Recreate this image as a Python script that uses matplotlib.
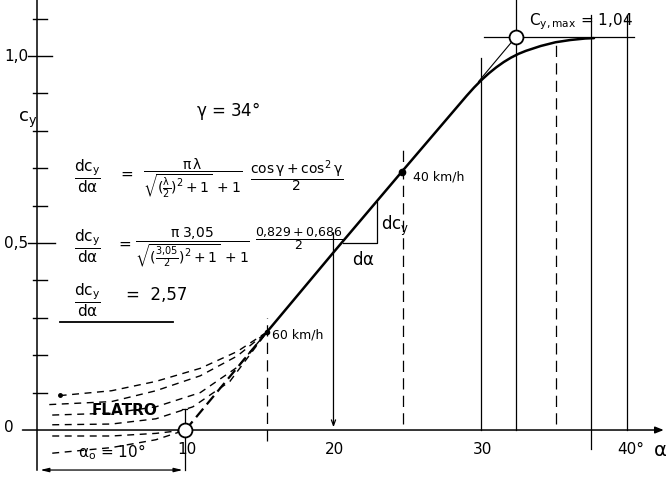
import matplotlib
matplotlib.use("Agg")
import matplotlib.pyplot as plt
import numpy as np

plt.rcParams["mathtext.default"] = "regular"
plt.rcParams["font.family"] = ["DejaVu Sans"]

# lift curve c_y(alpha)
curve_alpha = [15.5, 20.0, 24.6, 29.0, 29.5, 30.0, 30.5, 31.0, 31.5, 32.0, 32.5, 33.0, 34.0, 35.0, 36.0, 37.0, 37.6]
curve_cy = [0.262, 0.475, 0.69, 0.894, 0.916, 0.936, 0.954, 0.970, 0.984, 0.996, 1.006, 1.014, 1.027, 1.037, 1.043, 1.047, 1.048]
zero_lift = (10.0, 0.0)          # alpha_0 = 10 deg
kmh60 = (15.5, 0.262)
kmh40 = (24.6, 0.690)
tangent_start = (29.8, 0.932)
tangent_end = (32.3, 1.05)       # c_y,max = 1,04
cymax_line = [30.2, 40.3]

# "flatro" fan of dashed curves (alpha, c_y)
fan_to_60 = [
    ([1.5, 5, 8, 11, 13.5, 15.5], [0.092, 0.105, 0.13, 0.165, 0.21, 0.262]),
    ([0.8, 5, 8, 11, 13.5, 15.5], [0.068, 0.076, 0.105, 0.145, 0.198, 0.262]),
    ([1.0, 5, 8, 11, 13.5, 15.5], [0.04, 0.045, 0.062, 0.1, 0.168, 0.262]),
    ([1.0, 5, 8, 10.5, 13, 15.5], [0.014, 0.016, 0.03, 0.062, 0.13, 0.262]),
]
fan_to_zero = [
    ([1.0, 5, 8, 10], [-0.016, -0.016, -0.009, 0.0]),
    ([1.0, 5, 8, 10], [-0.062, -0.047, -0.026, 0.0]),
]

# vertical guide lines: alpha, top, bottom, dashed?
vlines = [
    (15.5, 0.30, -0.03, True),
    (24.7, 0.75, 0.015, True),
    (30.0, 0.995, 0.0, False),
    (32.3, 1.15, 0.0, False),
    (35.0, 1.035, 0.015, True),
    (37.4, 1.11, -0.05, False),
    (39.8, 1.11, 0.0, False),
]
cy_minor = [0.1, 0.2, 0.3, 0.4, 0.6, 0.7, 0.8, 0.9, 1.1]
cy_major = [0.5, 1.0]
x_labels = [(10, "10"), (20, "20"), (30, "30"), (40, "40°")]

fig = plt.figure(figsize=(6.68, 4.79), dpi=100)
ax = fig.add_axes([0, 0, 1, 1])
ax.set_xlim(-2.53, 42.6)
ax.set_ylim(-0.131, 1.150)
ax.axis("off")
k = "black"

# axes by hand
ax.plot([0, 0], [-0.107, 1.15], color=k, lw=1.1)
ax.annotate("", xy=(42.5, 0), xytext=(-1.2, 0),
            arrowprops=dict(arrowstyle="-|>,head_length=0.5,head_width=0.2", color=k, lw=1.1))
for c in cy_minor:
    ax.plot([-0.3, 0.65], [c, c], color=k, lw=1.0)
for c in cy_major:
    ax.plot([-0.65, 1.2 if c == 0.5 else 1.0], [c, c], color=k, lw=1.0)

ax.text(-1.39, 1.0, "1,0", ha="center", va="center", fontsize=11)
ax.text(-1.45, 0.5, "0,5", ha="center", va="center", fontsize=11)
ax.text(-1.93, 0.008, "0", ha="center", va="center", fontsize=11)
ax.text(-0.64, 0.829, "$c_y$", ha="center", va="center", fontsize=13)
for a, s in x_labels:
    ax.text(a + 0.1, -0.052, s, ha="center", va="center", fontsize=11)
ax.text(42.05, -0.056, r"$\alpha$", ha="center", va="center", fontsize=14)

# verticals
for a, top, bot, dashed in vlines:
    ax.plot([a, a], [bot, top], color=k, lw=0.9, ls=(0, (9, 5)) if dashed else "-")
ax.annotate("", xy=(20.0, 0.0), xytext=(20.0, 0.535),
            arrowprops=dict(arrowstyle="->,head_length=0.4,head_width=0.15", color=k, lw=0.9))

# main curve
ax.plot(curve_alpha, curve_cy, color=k, lw=1.8, solid_capstyle="round", solid_joinstyle="round")
ax.plot([zero_lift[0], kmh60[0]], [zero_lift[1], kmh60[1]], color=k, lw=1.6, ls=(0, (5, 2.5)))
ax.plot([tangent_start[0], tangent_end[0]], [tangent_start[1], tangent_end[1]], color=k, lw=0.8)
ax.plot(cymax_line, [1.05, 1.05], color=k, lw=0.9)
for xs, ys in fan_to_60 + fan_to_zero:
    ax.plot(xs, ys, color=k, lw=1.0, ls=(0, (5, 4)))
ax.plot(*zero_lift, "o", ms=10, mfc="white", mec=k, mew=1.3, zorder=5)
ax.plot(*tangent_end, "o", ms=10, mfc="white", mec=k, mew=1.3, zorder=5)
ax.plot(*kmh40, "o", ms=4.5, color=k)
ax.plot(*kmh60, "o", ms=3, color=k)
ax.plot([10, 10], [0.02, 0.055], color=k, lw=0.9)
ax.plot([9.75, 10.1], [0.055, 0.055], color=k, lw=0.9)
ax.plot(1.5, 0.094, "o", ms=2.5, color=k)

# d alpha / d c_y triangle
ax.plot([20.64, 22.95, 22.95], [0.5, 0.5, 0.609], color=k, lw=0.9)
ax.text(22.0, 0.455, r"$d\alpha$", ha="center", va="center", fontsize=12)
ax.text(23.2, 0.545, "$dc_y$", ha="left", va="center", fontsize=12)

# bracket alpha_0
ax.plot([10, 10], [0, -0.107], color=k, lw=0.9)
ax.annotate("", xy=(0, -0.107), xytext=(10, -0.107),
            arrowprops=dict(arrowstyle="<|-|>,head_length=0.5,head_width=0.12", color=k, lw=0.9))
ax.text(5.0, -0.059, r"$\alpha_o$ = 10°", ha="center", va="center", fontsize=11)
ax.text(5.9, 0.053, "FLATRO", ha="center", va="center", fontsize=11, fontweight="bold")

ax.text(15.84, 0.254, "60 km/h", ha="left", va="center", fontsize=9)
ax.text(25.4, 0.676, "40 km/h", ha="left", va="center", fontsize=9)
ax.text(36.7, 1.091, "$C_{y,max}$ = 1,04", ha="center", va="center", fontsize=11)

# formulas
ax.text(12.9, 0.853, r"$\gamma$ = 34°", ha="center", va="center", fontsize=12)
ax.text(3.4, 0.679, r"$\dfrac{dc_y}{d\alpha}$", ha="center", va="center", fontsize=11)
ax.text(6.0, 0.684, "=", ha="center", va="center", fontsize=11)
ax.text(10.5, 0.674, r"$\dfrac{\pi\,\lambda}{\sqrt{(\frac{\lambda}{2})^2+1}\;+1}$",
        ha="center", va="center", fontsize=10)
ax.text(17.5, 0.679, r"$\dfrac{\cos\gamma+\cos^2\gamma}{2}$", ha="center", va="center", fontsize=10)

ax.text(3.4, 0.492, r"$\dfrac{dc_y}{d\alpha}$", ha="center", va="center", fontsize=11)
ax.text(5.9, 0.497, "=", ha="center", va="center", fontsize=11)
ax.text(10.5, 0.49, r"$\dfrac{\pi\;3{,}05}{\sqrt{(\frac{3{,}05}{2})^2+1}\;+1}$",
        ha="center", va="center", fontsize=10)
ax.text(17.7, 0.513, r"$\dfrac{0{,}829+0{,}686}{2}$", ha="center", va="center", fontsize=9)

ax.text(3.4, 0.348, r"$\dfrac{dc_y}{d\alpha}$", ha="center", va="center", fontsize=11)
ax.text(6.0, 0.36, "=  2,57", ha="left", va="center", fontsize=12)
ax.plot([1.52, 9.15], [0.289, 0.289], color=k, lw=1.3)

fig.savefig("out.png", dpi=100)
